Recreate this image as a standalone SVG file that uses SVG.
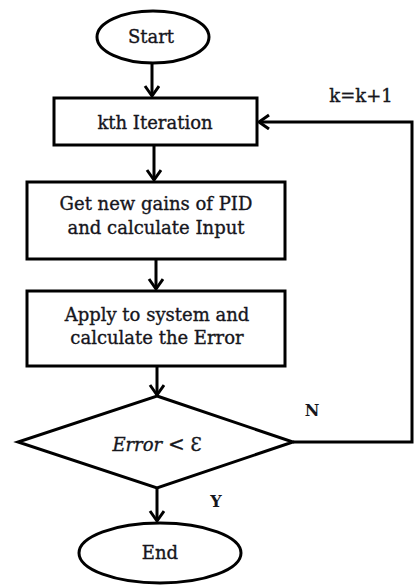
<svg xmlns="http://www.w3.org/2000/svg" width="414" height="588" viewBox="0 0 414 588">
  <defs>
    <style>
      .shape { fill: #ffffff; stroke: #000000; stroke-width: 3; }
      .edge { fill: none; stroke: #000000; stroke-width: 3; }
      .lbl { font-family: "DejaVu Serif", "Liberation Serif", serif; font-size: 18px; fill: #16161c; stroke: #16161c; stroke-width: 0.35; text-anchor: middle; }
      .tag { font-family: "DejaVu Serif", "Liberation Serif", serif; font-size: 16px; font-weight: bold; fill: #16161c; text-anchor: middle; }
    </style>
    <marker id="arrow" markerUnits="userSpaceOnUse" markerWidth="20" markerHeight="20" refX="12" refY="8" orient="auto">
      <path d="M2,1 L12,8 L2,15" fill="none" stroke="#000000" stroke-width="3"/>
    </marker>
  </defs>
  <rect width="414" height="588" fill="#ffffff"/>

  <g id="connectors">
    <line class="edge" x1="152" y1="63" x2="152" y2="96" marker-end="url(#arrow)"/>
    <line class="edge" x1="154" y1="145" x2="154" y2="180" marker-end="url(#arrow)"/>
    <line class="edge" x1="156" y1="259" x2="156" y2="289" marker-end="url(#arrow)"/>
    <line class="edge" x1="157" y1="366" x2="157" y2="395" marker-end="url(#arrow)"/>
    <line class="edge" x1="157" y1="488" x2="157" y2="521" marker-end="url(#arrow)"/>
    <polyline class="edge" points="293,442 412,442 412,122 259,122" marker-end="url(#arrow)"/>
  </g>

  <g id="start">
    <ellipse class="shape" cx="153" cy="37" rx="56" ry="26"/>
    <text class="lbl" x="151" y="43">Start</text>
  </g>

  <g id="iteration">
    <rect class="shape" x="54" y="98" width="203" height="47"/>
    <text class="lbl" x="155" y="129">kth Iteration</text>
  </g>

  <g id="gains">
    <rect class="shape" x="27" y="182" width="258" height="77"/>
    <text class="lbl" x="156" y="210">Get new gains of PID</text>
    <text class="lbl" x="156" y="234">and calculate Input</text>
  </g>

  <g id="apply">
    <rect class="shape" x="27" y="291" width="258" height="75"/>
    <text class="lbl" x="157" y="321">Apply to system and</text>
    <text class="lbl" x="157" y="344">calculate the Error</text>
  </g>

  <g id="decision">
    <polygon class="shape" points="157,396 293,442 157,488 18,442"/>
    <text class="lbl" x="157" y="451"><tspan font-style="italic">Error</tspan> <tspan font-size="20">&lt;</tspan> Ɛ</text>
  </g>

  <g id="end">
    <ellipse class="shape" cx="160" cy="553" rx="81" ry="30"/>
    <text class="lbl" x="160" y="559">End</text>
  </g>

  <g id="labels">
    <text class="lbl" x="361" y="102">k=k+1</text>
    <text class="tag" x="312" y="416">N</text>
    <text class="tag" x="216" y="507">Y</text>
  </g>
</svg>
